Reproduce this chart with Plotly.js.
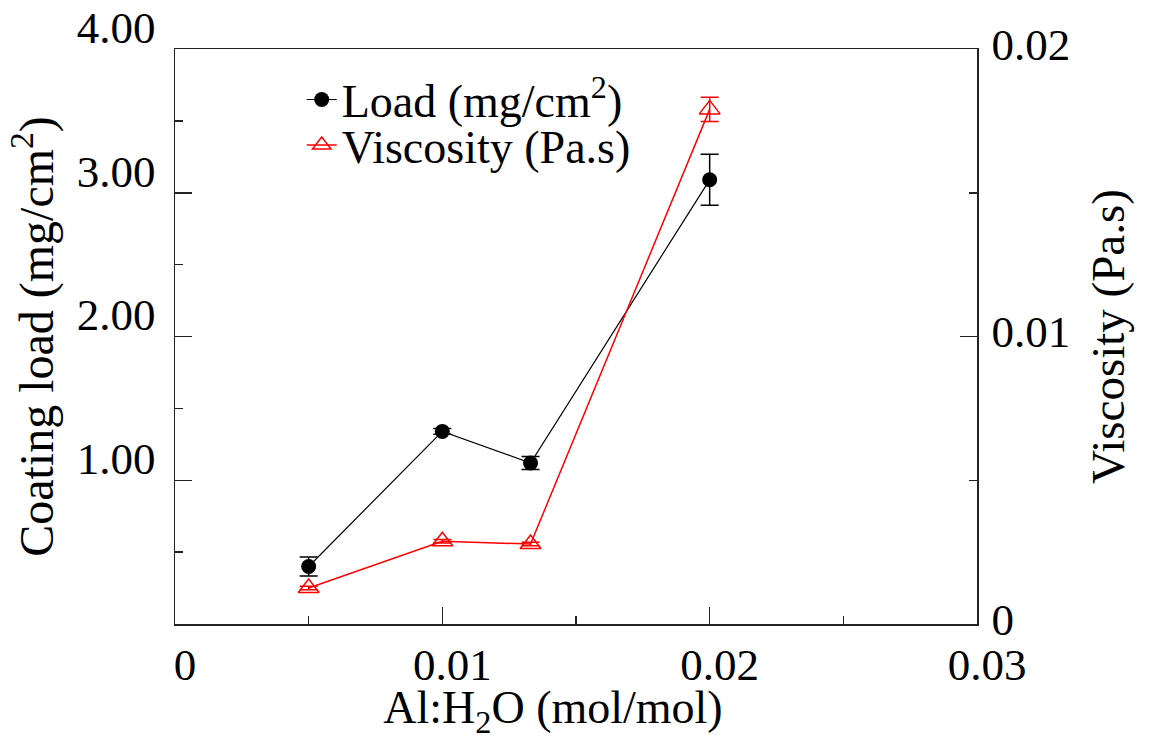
<!DOCTYPE html>
<html>
<head>
<meta charset="utf-8">
<script src="https://cdn.plot.ly/plotly-3.0.1.min.js"></script>
<style>
  html, body { margin: 0; padding: 0; background: #fff; }
  #chart { width: 1149px; height: 740px; }
</style>
</head>
<body>
<div id="chart"></div>
<script>
// ---- data ----
const alRatio = [0.005, 0.01, 0.0133, 0.02];           // Al:H2O (mol/mol)
const coatingLoad = [0.40, 1.34, 1.12, 3.09];           // mg/cm2
const coatingLoadErr = [0.066, 0.02, 0.045, 0.177];
const viscosity = [0.00125, 0.00288, 0.00278, 0.0179];  // Pa.s
const viscosityErr = [0.00006, 0.00006, 0.00006, 0.00042];

const xTickVals = [0, 0.01, 0.02, 0.03];
const xTickText = ['0', '0.01', '0.02', '0.03'];
const yTickVals = [1, 2, 3, 4];
const yTickText = ['1.00', '2.00', '3.00', '4.00'];
const y2TickVals = [0, 0.01, 0.02];
const y2TickText = ['0', '0.01', '0.02'];

const FONT = '"Liberation Serif", "Times New Roman", serif';
const AXC = '#222';

const traces = [
  {
    x: alRatio, y: coatingLoad, name: 'Load (mg/cm<sup>2</sup>)',
    type: 'scatter', mode: 'lines+markers', yaxis: 'y', legend: 'legend',
    line: { color: '#000', width: 1.2 },
    marker: { symbol: 'circle', size: 15, color: '#000' },
    error_y: { type: 'data', array: coatingLoadErr, visible: true, color: '#000', thickness: 1.5, width: 9 }
  },
  {
    x: alRatio, y: viscosity, name: 'Viscosity (Pa.s)',
    type: 'scatter', mode: 'lines+markers', yaxis: 'y2', legend: 'legend2',
    line: { color: '#ff0000', width: 1.5 },
    marker: { symbol: 'triangle-up-open', size: 18, color: '#ff0000', line: { width: 1.5, color: '#ff0000' } },
    error_y: { type: 'data', array: viscosityErr, visible: true, color: '#ff0000', thickness: 1.5, width: 9 }
  }
];

const axisCommon = {
  showgrid: false, zeroline: false, showline: true, linecolor: AXC, linewidth: 1.5,
  ticks: 'inside', ticklen: 17, tickwidth: 1.5, tickcolor: AXC,
  tickfont: { family: FONT, size: 45, color: '#000' },
  fixedrange: true
};

const legendCommon = {
  xanchor: 'left', yanchor: 'middle',
  bgcolor: 'rgba(0,0,0,0)', borderwidth: 0,
  font: { family: FONT, size: 46, color: '#000' }
};

const layout = {
  width: 1149, height: 740,
  paper_bgcolor: '#fff', plot_bgcolor: '#fff',
  margin: { l: 175, r: 172, t: 49, b: 116, pad: 0 },
  font: { family: FONT, color: '#000' },
  showlegend: true,
  legend: Object.assign({}, legendCommon, { x: 0.158, y: 0.912 }),
  legend2: Object.assign({}, legendCommon, { x: 0.158, y: 0.833 }),
  xaxis: Object.assign({}, axisCommon, {
    range: [0, 0.03], tickmode: 'array', tickvals: xTickVals, ticktext: xTickText,
    mirror: true, ticklabelshift: 10,
    minor: { tickvals: [0.005, 0.015, 0.025], ticks: 'inside', ticklen: 8, tickwidth: 1.5, tickcolor: AXC },
    title: { text: 'Al:H<sub>2</sub>O (mol/mol)&nbsp;&nbsp;&nbsp;&nbsp;', font: { family: FONT, size: 46, color: '#000' }, standoff: 9 }
  }),
  yaxis: Object.assign({}, axisCommon, {
    range: [0, 4], tickmode: 'array', tickvals: yTickVals, ticktext: yTickText,
    ticklabelshift: -22, ticklabelstandoff: 9,
    minor: { tickvals: [0.5, 1.5, 2.5, 3.5], ticks: 'inside', ticklen: 8, tickwidth: 1.5, tickcolor: AXC },
    title: { text: 'Coating load (mg/cm<sup>2</sup>)', font: { family: FONT, size: 48, color: '#000' }, standoff: 8 }
  }),
  yaxis2: Object.assign({}, axisCommon, {
    overlaying: 'y', side: 'right', anchor: 'x',
    range: [0, 0.02], tickmode: 'array', tickvals: y2TickVals, ticktext: y2TickText,
    ticklabelshift: -5, ticklabelstandoff: 4,
    minor: { tickvals: [0.005, 0.015], ticks: 'inside', ticklen: 8, tickwidth: 1.5, tickcolor: AXC },
    title: { text: 'Viscosity (Pa.s)', font: { family: FONT, size: 47, color: '#000' }, standoff: 22 }
  })
};

Plotly.newPlot('chart', traces, layout, { staticPlot: true, displayModeBar: false });
</script>
</body>
</html>
